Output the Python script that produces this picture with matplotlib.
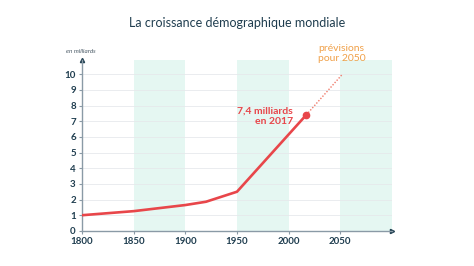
import matplotlib
matplotlib.use("Agg")
import matplotlib.pyplot as plt

years = [1800, 1850, 1900, 1920, 1950, 2017]
population = [1.0, 1.26, 1.65, 1.86, 2.5, 7.4]
proj_years = [2017, 2052]
proj_pop = [7.4, 10.0]
bands = [(1850, 1900), (1950, 2000), (2050, 2100)]
xticks = [1800, 1850, 1900, 1950, 2000, 2050]
yticks = list(range(0, 11))

navy = "#1f3d4f"
red = "#e8464a"
plt.rcParams['font.family'] = ['Lato', 'DejaVu Sans']

fig = plt.figure(figsize=(4.74, 2.66), dpi=100)
ax = fig.add_axes([0.173, 0.132, 0.654, 0.642])
ax.set_xlim(1800, 2100)
ax.set_ylim(0, 10.9)

for a, b in bands:
    ax.axvspan(a, b, color="#e5f7f2", lw=0, zorder=0)
for y in yticks[1:]:
    ax.axhline(y, color="#e6e9ec", lw=0.6, zorder=1)

ax.plot(years, population, color=red, lw=1.9, zorder=3, solid_joinstyle="round")
ax.plot(proj_years, proj_pop, color="#f07a6a", lw=1.0, ls=(0, (1, 1.2)), zorder=3)
ax.plot([2017], [7.4], "o", color=red, ms=4.5, zorder=4)

for s in ["top", "right"]:
    ax.spines[s].set_visible(False)
for s in ["left", "bottom"]:
    ax.spines[s].set_color("#8a9aa6")
    ax.spines[s].set_linewidth(1.0)
ax.plot(1, 0, ">", color=navy, ms=3, transform=ax.transAxes, clip_on=False)
ax.plot(0, 1, "^", color=navy, ms=3, transform=ax.transAxes, clip_on=False)

ax.set_xticks(xticks)
ax.set_yticks(yticks)
ax.tick_params(colors="#8a9aa6", length=2.5, width=0.8)
for lbl in ax.get_xticklabels() + ax.get_yticklabels():
    lbl.set_color(navy)
    lbl.set_fontweight("bold")
    lbl.set_fontsize(7)
ax.tick_params(axis="x", pad=2)
ax.tick_params(axis="y", pad=2)

fig.text(0.5, 0.915, "La croissance démographique mondiale", ha="center", va="center",
         fontsize=9, color=navy)
fig.text(0.14, 0.808, "en milliards", ha="left", va="center", fontsize=4.5,
         style="italic", color="#4a5a66")
ax.text(2004, 7.3, "7,4 milliards\nen 2017", ha="right", va="center", fontsize=7.5,
        fontweight="bold", color=red, linespacing=1.15)
ax.text(2051, 11.3, "prévisions\npour 2050", ha="center", va="center", fontsize=7.5,
        color="#f0a048", linespacing=1.15, clip_on=False)

fig.savefig("out.png", dpi=100, facecolor="white")
